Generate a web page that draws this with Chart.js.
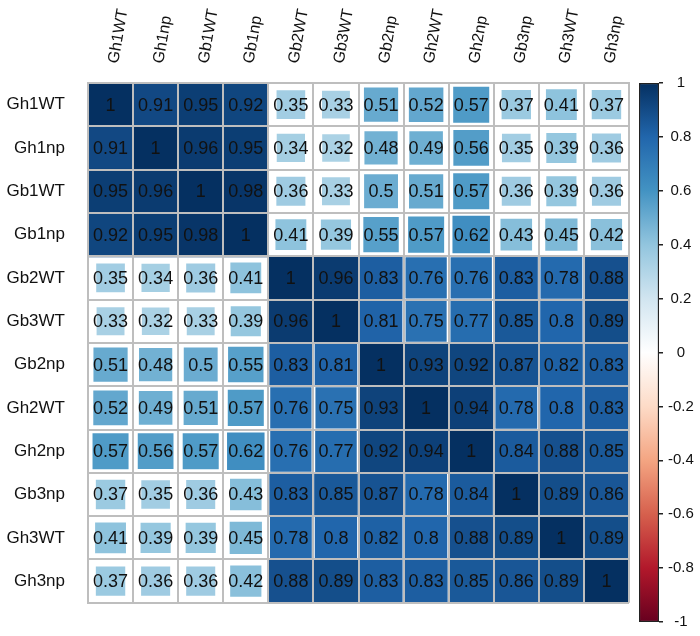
<!DOCTYPE html>
<html>
<head>
<meta charset="utf-8">
<script src="https://cdn.jsdelivr.net/npm/chart.js"></script>
<style>
  body { margin: 0; background: #fff; }
  #wrap { position: relative; width: 700px; height: 636px; }
  #corr { position: absolute; left: 0; top: 0; }
  #legend { position: absolute; left: 600px; top: 0; }
</style>
</head>
<body>
<div id="wrap">
  <canvas id="corr" width="700" height="636"></canvas>
  <canvas id="legend" width="100" height="636"></canvas>
</div>
<script>
// variable names (rows and columns)
var names = ['Gh1WT', 'Gh1np', 'Gb1WT', 'Gb1np', 'Gb2WT', 'Gb3WT', 'Gb2np', 'Gh2WT', 'Gh2np', 'Gb3np', 'Gh3WT', 'Gh3np'];

// correlation values, one array per row
var rowGh1WT = [1, 0.91, 0.95, 0.92, 0.35, 0.33, 0.51, 0.52, 0.57, 0.37, 0.41, 0.37];
var rowGh1np = [0.91, 1, 0.96, 0.95, 0.34, 0.32, 0.48, 0.49, 0.56, 0.35, 0.39, 0.36];
var rowGb1WT = [0.95, 0.96, 1, 0.98, 0.36, 0.33, 0.5, 0.51, 0.57, 0.36, 0.39, 0.36];
var rowGb1np = [0.92, 0.95, 0.98, 1, 0.41, 0.39, 0.55, 0.57, 0.62, 0.43, 0.45, 0.42];
var rowGb2WT = [0.35, 0.34, 0.36, 0.41, 1, 0.96, 0.83, 0.76, 0.76, 0.83, 0.78, 0.88];
var rowGb3WT = [0.33, 0.32, 0.33, 0.39, 0.96, 1, 0.81, 0.75, 0.77, 0.85, 0.8, 0.89];
var rowGb2np = [0.51, 0.48, 0.5, 0.55, 0.83, 0.81, 1, 0.93, 0.92, 0.87, 0.82, 0.83];
var rowGh2WT = [0.52, 0.49, 0.51, 0.57, 0.76, 0.75, 0.93, 1, 0.94, 0.78, 0.8, 0.83];
var rowGh2np = [0.57, 0.56, 0.57, 0.62, 0.76, 0.77, 0.92, 0.94, 1, 0.84, 0.88, 0.85];
var rowGb3np = [0.37, 0.35, 0.36, 0.43, 0.83, 0.85, 0.87, 0.78, 0.84, 1, 0.89, 0.86];
var rowGh3WT = [0.41, 0.39, 0.39, 0.45, 0.78, 0.8, 0.82, 0.8, 0.88, 0.89, 1, 0.89];
var rowGh3np = [0.37, 0.36, 0.36, 0.42, 0.88, 0.89, 0.83, 0.83, 0.85, 0.86, 0.89, 1];
var rows = [rowGh1WT, rowGh1np, rowGb1WT, rowGb1np, rowGb2WT, rowGb3WT, rowGb2np, rowGh2WT, rowGh2np, rowGb3np, rowGh3WT, rowGh3np];

// colour legend ticks
var legendTicks = [-1, -0.8, -0.6, -0.4, -0.2, 0, 0.2, 0.4, 0.6, 0.8, 1];

// RdBu palette, from -1 to 1
var palette = ['#67001F', '#B2182B', '#D6604D', '#F4A582', '#FDDBC7', '#FFFFFF', '#D1E5F0', '#92C5DE', '#4393C3', '#2166AC', '#053061'];

var fontFamily = '"Liberation Sans", Arial, sans-serif';
var textColor = '#111';
var gridColor = '#bebebe';

function hexToRgb(h) {
  return [parseInt(h.substr(1, 2), 16), parseInt(h.substr(3, 2), 16), parseInt(h.substr(5, 2), 16)];
}

function corrColor(v) {
  var t = (v + 1) / 2 * (palette.length - 1);
  var i = Math.min(Math.floor(t), palette.length - 2);
  var f = t - i;
  var a = hexToRgb(palette[i]), b = hexToRgb(palette[i + 1]);
  var c = a.map(function (x, k) { return Math.round(x + (b[k] - x) * f); });
  return 'rgb(' + c.join(',') + ')';
}

var points = [];
rows.forEach(function (row, r) {
  row.forEach(function (v, c) {
    points.push({ x: names[c], y: names[r], v: v });
  });
});

// numbers written in each cell
var cellText = {
  id: 'cellText',
  afterDraw: function (chart) {
    var ctx = chart.ctx;
    var meta = chart.getDatasetMeta(0);
    ctx.save();
    ctx.font = '18px ' + fontFamily;
    ctx.fillStyle = textColor;
    ctx.textAlign = 'center';
    ctx.textBaseline = 'middle';
    meta.data.forEach(function (pt, i) {
      ctx.fillText(String(points[i].v), pt.x, pt.y + 1);
    });
    ctx.restore();
  }
};

new Chart(document.getElementById('corr'), {
  type: 'scatter',
  data: {
    datasets: [{
      data: points,
      pointStyle: 'rect',
      pointBorderWidth: 0,
      pointRadius: function (ctx) {
        if (!ctx.raw) return 0;
        var cell = ctx.chart.scales.x.width / names.length;
        // square side ~ sqrt(|r|), like corrplot (plus its thin outline)
        var side = Math.min(cell, Math.sqrt(Math.abs(ctx.raw.v)) * cell + 2);
        return side / Math.SQRT2;
      },
      pointBackgroundColor: function (ctx) {
        return ctx.raw ? corrColor(ctx.raw.v) : '#fff';
      }
    }]
  },
  options: {
    responsive: false,
    animation: false,
    events: [],
    layout: { padding: { right: 71, bottom: 12 } },
    plugins: { legend: { display: false }, tooltip: { enabled: false } },
    scales: {
      x: {
        type: 'category',
        labels: names,
        position: 'top',
        offset: true,
        grid: { offset: true, color: gridColor, lineWidth: 2, drawTicks: false, z: 1 },
        border: { color: gridColor, width: 2, z: 1 },
        ticks: {
          autoSkip: false, minRotation: 80, maxRotation: 80, padding: 18, labelOffset: 22,
          color: textColor, font: { family: fontFamily, size: 16 }
        },
        afterFit: function (s) { s.height = 83; }
      },
      y: {
        type: 'category',
        labels: names,
        offset: true,
        grid: { offset: true, color: gridColor, lineWidth: 2, drawTicks: false, z: 1 },
        border: { color: gridColor, width: 2, z: 1 },
        ticks: { padding: 23, color: textColor, font: { family: fontFamily, size: 17 } },
        afterFit: function (s) { s.width = 88; }
      }
    }
  },
  plugins: [cellText]
});

// colour bar
function barGradient(ctx) {
  var chart = ctx.chart;
  var area = chart.chartArea;
  var yScale = chart.scales.y;
  if (!area || !yScale) return palette[5];
  var top = yScale.getPixelForValue(1), bottom = yScale.getPixelForValue(-1);
  var g = chart.ctx.createLinearGradient(0, bottom, 0, top);
  palette.forEach(function (col, i) {
    g.addColorStop(i / (palette.length - 1), col);
  });
  return g;
}

new Chart(document.getElementById('legend'), {
  type: 'bar',
  data: {
    labels: [''],
    datasets: [{
      data: [[-1, 1]],
      backgroundColor: barGradient,
      borderColor: '#222',
      borderWidth: 1.5,
      borderSkipped: false,
      barPercentage: 1,
      categoryPercentage: 1
    }]
  },
  options: {
    responsive: false,
    animation: false,
    events: [],
    layout: { padding: { left: 39, top: 83, bottom: 12 } },
    plugins: { legend: { display: false }, tooltip: { enabled: false } },
    scales: {
      x: { display: false },
      y: {
        position: 'right',
        min: -1,
        max: 1,
        afterBuildTicks: function (axis) {
          axis.ticks = legendTicks.map(function (v) { return { value: v }; });
        },
        grid: { drawOnChartArea: false, drawTicks: true, tickLength: 4, color: '#222', lineWidth: 1.5 },
        border: { display: false },
        ticks: {
          padding: 5,
          crossAlign: 'center',
          color: textColor,
          font: { family: fontFamily, size: 15 },
          callback: function (v) { return String(Math.round(v * 10) / 10); }
        },
        afterFit: function (s) { s.width = 41; }
      }
    }
  }
});
</script>
</body>
</html>
